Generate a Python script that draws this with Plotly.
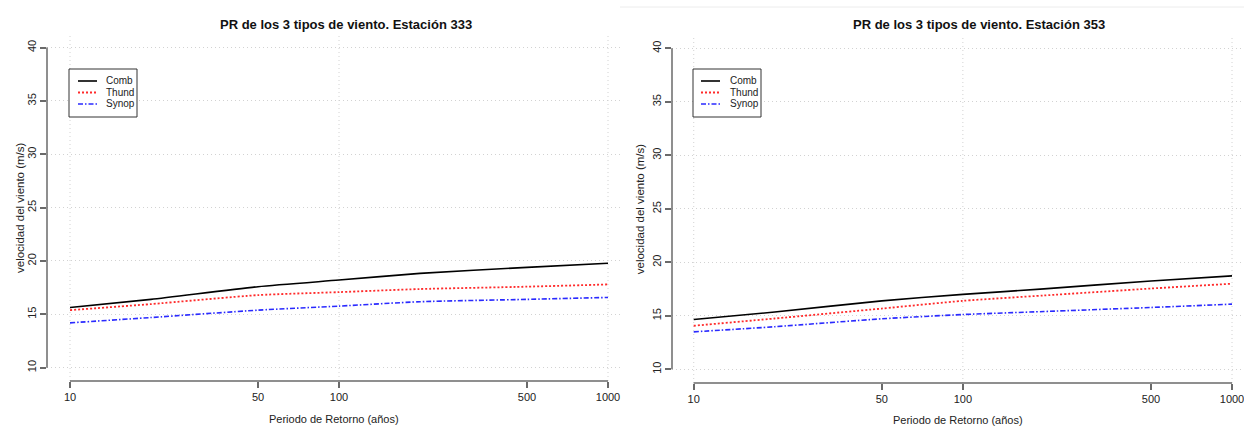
import plotly.graph_objects as go

W, H = 1244, 430

# ---------------- data ----------------
return_periods = [10, 20, 50, 100, 200, 500, 1000]
series_names = ["Comb", "Thund", "Synop"]

st333_comb = [15.64, 16.40, 17.59, 18.21, 18.84, 19.40, 19.78]
st333_thund = [15.39, 15.96, 16.80, 17.08, 17.37, 17.59, 17.80]
st333_synop = [14.20, 14.70, 15.39, 15.77, 16.18, 16.40, 16.58]

st353_comb = [14.66, 15.35, 16.40, 17.00, 17.52, 18.26, 18.73]
st353_thund = [14.07, 14.75, 15.68, 16.40, 16.90, 17.55, 18.00]
st353_synop = [13.50, 13.98, 14.72, 15.12, 15.40, 15.78, 16.09]

x_tickvals = [10, 50, 100, 500, 1000]
x_ticktext = ["10", "50", "100", "500", "1000"]
x_gridvals = [10, 100, 1000]
y_tickvals = [10, 15, 20, 25, 30, 35, 40]
y_ticktext = ["10", "15", "20", "25", "30", "35", "40"]

titles = ["PR de los 3 tipos de viento. Estación 333",
          "PR de los 3 tipos de viento. Estación 353"]
x_title = "Periodo de Retorno (años)"
y_title = "velocidad del viento (m/s)"

# ---------------- styles ----------------
FONT = "Liberation Sans, Arial, sans-serif"
colors = ["#000000", "#ff2a2a", "#2a2aff"]
dashes = ["solid", "2px,2px", "5px,2px,1.5px,2px"]
widths = [1.6, 1.8, 1.6]
AXCOL = "#6a6a6a"
GRIDCOL = "#d2d2d2"
GRIDDASH = "1px,3px"


def px(x):
    return x / W


def py(y):
    return 1 - y / H


fig = go.Figure()

panels = [
    dict(xa="x", ya="y", data=[st333_comb, st333_thund, st333_synop],
         xdom=[px(47), px(620)], ydom=[py(381), py(35)],
         xr=[0.9145, 3.0446], yr=[8.75, 41.18],
         title_xy=(346, 24), ylab_x=20, xlab_y=419,
         leg_box=(69, 69, 137, 117), leg_rows=[81, 92.5, 104],
         leg_line=(78, 97), leg_text=104),
    dict(xa="x2", ya="y2", data=[st353_comb, st353_thund, st353_synop],
         xdom=[px(672), 1.0], ydom=[py(383), py(35.5)],
         xr=[0.9193, 3.0446], yr=[8.72, 41.2],
         title_xy=(979, 24), ylab_x=640, xlab_y=420,
         leg_box=(693, 69, 761, 117), leg_rows=[81, 92.5, 104],
         leg_line=(701, 720), leg_text=728),
]

shapes = []
annotations = []

for i, p in enumerate(panels):
    for name, vals, c, d, w in zip(series_names, p["data"], colors, dashes, widths):
        fig.add_trace(go.Scatter(
            x=return_periods, y=vals, mode="lines", name=name,
            line=dict(color=c, dash=d, width=w, shape="spline", smoothing=0.6),
            xaxis=p["xa"], yaxis=p["ya"], showlegend=False,
        ))

    xname = "xaxis" if i == 0 else "xaxis2"
    yname = "yaxis" if i == 0 else "yaxis2"
    fig.update_layout(**{
        xname: dict(
            type="log", domain=p["xdom"], range=p["xr"], anchor=p["ya"],
            tickvals=x_tickvals, ticktext=x_ticktext,
            ticks="outside", ticklen=6, tickwidth=1.5, tickcolor=AXCOL,
            showgrid=False, zeroline=False, showline=False,
            ticklabeloverflow="allow",
            tickfont=dict(family=FONT, size=11, color="#222"),
        ),
        yname: dict(
            domain=p["ydom"], range=p["yr"], anchor=p["xa"],
            tickvals=y_tickvals, ticktext=y_ticktext, tickangle=-90,
            ticks="outside", ticklen=6, tickwidth=1.5, tickcolor=AXCOL,
            showgrid=True, gridcolor=GRIDCOL, griddash=GRIDDASH, gridwidth=1,
            zeroline=False, showline=False,
            tickfont=dict(family=FONT, size=11, color="#222"),
        ),
    })

    ydom_ref = p["ya"] + " domain"
    xdom_ref = p["xa"] + " domain"
    # vertical grid lines (equilogs)
    for gv in x_gridvals:
        shapes.append(dict(type="line", xref=p["xa"], yref=ydom_ref,
                           x0=gv, x1=gv, y0=0, y1=1, layer="below",
                           line=dict(color=GRIDCOL, width=1, dash=GRIDDASH)))
    # axis lines from first to last tick (R style)
    shapes.append(dict(type="line", xref=p["xa"], yref=ydom_ref,
                       x0=min(x_tickvals), x1=max(x_tickvals), y0=0, y1=0,
                       line=dict(color=AXCOL, width=1.5)))
    shapes.append(dict(type="line", xref=xdom_ref, yref=p["ya"],
                       x0=0, x1=0, y0=min(y_tickvals), y1=max(y_tickvals),
                       line=dict(color=AXCOL, width=1.5)))

    # titles
    tx, ty = p["title_xy"]
    annotations.append(dict(text="<b>" + titles[i] + "</b>", x=px(tx), y=py(ty),
                            xref="paper", yref="paper", showarrow=False,
                            xanchor="center", yanchor="middle",
                            font=dict(family=FONT, size=13, color="#111")))
    # axis titles
    yd = p["ydom"]
    annotations.append(dict(text=y_title, x=px(p["ylab_x"]), y=(yd[0] + yd[1]) / 2,
                            xref="paper", yref="paper", showarrow=False,
                            textangle=-90, xanchor="center", yanchor="middle",
                            font=dict(family=FONT, size=11.5, color="#222")))
    annotations.append(dict(text=x_title, x=(p["xdom"][0] + p["xdom"][1]) / 2,
                            y=py(p["xlab_y"]), xref="paper", yref="paper",
                            showarrow=False, xanchor="center", yanchor="middle",
                            font=dict(family=FONT, size=11, color="#222")))

    # legend box
    bx0, by0, bx1, by1 = p["leg_box"]
    shapes.append(dict(type="rect", xref="paper", yref="paper",
                       x0=px(bx0), x1=px(bx1), y0=py(by1), y1=py(by0),
                       fillcolor="white", line=dict(color="#333", width=1)))
    lx0, lx1 = p["leg_line"]
    for name, c, d, w, ry in zip(series_names, colors, dashes, widths, p["leg_rows"]):
        shapes.append(dict(type="line", xref="paper", yref="paper",
                           x0=px(lx0), x1=px(lx1), y0=py(ry), y1=py(ry),
                           line=dict(color=c, dash=d, width=w)))
        annotations.append(dict(text=name, x=px(p["leg_text"]), y=py(ry),
                                xref="paper", yref="paper", showarrow=False,
                                xanchor="left", yanchor="middle",
                                font=dict(family=FONT, size=10, color="#222")))

# faint page border at top of right image
shapes.append(dict(type="line", xref="paper", yref="paper",
                   x0=px(620), x1=1, y0=py(7), y1=py(7),
                   line=dict(color="#ececec", width=1)))

fig.update_layout(
    width=W, height=H, autosize=False,
    margin=dict(l=0, r=0, t=0, b=0),
    paper_bgcolor="white", plot_bgcolor="white",
    shapes=shapes, annotations=annotations,
    showlegend=False,
)

fig.write_html(
    "out.html",
    config={"displayModeBar": False},
    post_script="document.body.style.margin='0';document.body.style.padding='0';"
                "document.body.style.overflow='hidden';",
)
